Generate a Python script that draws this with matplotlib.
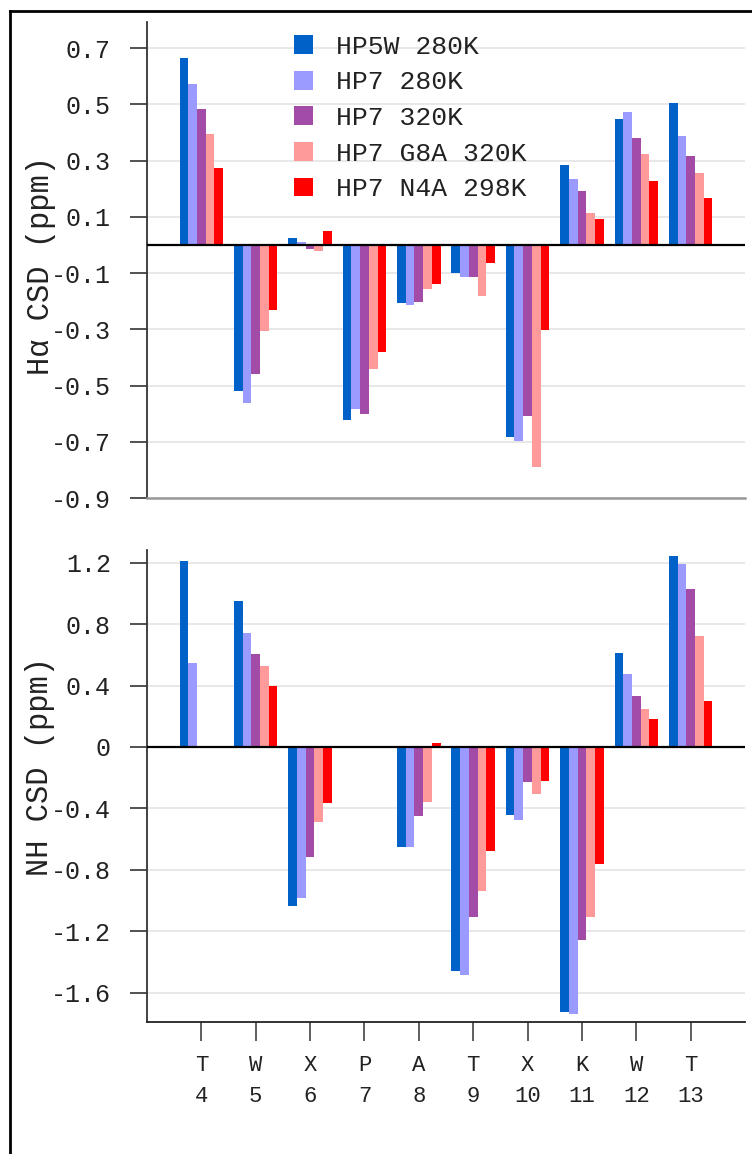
import numpy as np
import matplotlib
matplotlib.use("Agg")
import matplotlib.pyplot as plt
from matplotlib.lines import Line2D

plt.rcParams['font.family'] = ['Liberation Mono', 'DejaVu Sans Mono']
plt.rcParams['axes.unicode_minus'] = False

residues = ["T", "W", "X", "P", "A", "T", "X", "K", "W", "T"]
numbers = [4, 5, 6, 7, 8, 9, 10, 11, 12, 13]
series = ["HP5W 280K", "HP7 280K", "HP7 320K", "HP7 G8A 320K", "HP7 N4A 298K"]
colors = ["#0062C8", "#9A9AFF", "#A24CA8", "#FF9A9A", "#FF0000"]

nan = np.nan
ha_hp5w_280 = [0.665, -0.520, 0.024, -0.622, -0.205, -0.099, -0.683, 0.284, 0.448, 0.505]
ha_hp7_280 = [0.573, -0.563, 0.010, -0.583, -0.215, -0.114, -0.697, 0.234, 0.472, 0.387]
ha_hp7_320 = [0.484, -0.460, -0.014, -0.600, -0.203, -0.114, -0.609, 0.192, 0.379, 0.316]
ha_g8a_320 = [0.396, -0.306, -0.020, -0.442, -0.158, -0.180, -0.789, 0.112, 0.322, 0.257]
ha_n4a_298 = [0.275, -0.230, 0.048, -0.382, -0.138, -0.065, -0.301, 0.094, 0.228, 0.166]

nh_hp5w_280 = [1.212, 0.952, -1.032, nan, -0.653, -1.455, -0.442, -1.722, 0.610, 1.245]
nh_hp7_280 = [0.545, 0.740, -0.980, nan, -0.653, -1.483, -0.475, -1.737, 0.473, 1.191]
nh_hp7_320 = [nan, 0.605, -0.714, nan, -0.449, -1.104, -0.226, -1.256, 0.332, 1.026]
nh_g8a_320 = [nan, 0.529, -0.486, nan, -0.358, -0.935, -0.308, -1.108, 0.247, 0.722]
nh_n4a_298 = [nan, 0.397, -0.367, nan, 0.024, -0.677, -0.219, -0.761, 0.180, 0.299]

ha_ticks = [0.7, 0.5, 0.3, 0.1, -0.1, -0.3, -0.5, -0.7, -0.9]
ha_ticklabels = ["0.7", "0.5", "0.3", "0.1", "-0.1", "-0.3", "-0.5", "-0.7", "-0.9"]
nh_ticks = [1.2, 0.8, 0.4, 0, -0.4, -0.8, -1.2, -1.6]
nh_ticklabels = ["1.2", "0.8", "0.4", "0", "-0.4", "-0.8", "-1.2", "-1.6"]

W, H = 752, 1154
fig = plt.figure(figsize=(W / 100, H / 100), dpi=100)

def fx(px):
    return px / W

def fy(py):
    return 1 - py / H

ax_l, ax_r = 147, 745
ax1 = fig.add_axes([fx(ax_l), fy(498), fx(ax_r - ax_l), (498 - 22) / H])
ax2 = fig.add_axes([fx(ax_l), fy(1022), fx(ax_r - ax_l), (1022 - 550) / H])

x = np.array(numbers, dtype=float)
bw = 0.16
offsets = [-2, -1, 0, 1, 2]

ha_data = [ha_hp5w_280, ha_hp7_280, ha_hp7_320, ha_g8a_320, ha_n4a_298]
nh_data = [nh_hp5w_280, nh_hp7_280, nh_hp7_320, nh_g8a_320, nh_n4a_298]

for ax, data in ((ax1, ha_data), (ax2, nh_data)):
    for k, (vals, c, lab) in enumerate(zip(data, colors, series)):
        ax.bar(x + offsets[k] * bw, vals, width=bw, color=c, label=lab,
               edgecolor='none', zorder=3)
    ax.set_xlim(3, 14)
    ax.axhline(0, color='black', lw=1.6, zorder=4)
    ax.grid(axis='y', color='#e6e6e6', lw=1.3, zorder=0)
    ax.set_axisbelow(True)
    for s in ('top', 'right'):
        ax.spines[s].set_visible(False)
    ax.spines['left'].set_color('#333333')
    ax.spines['left'].set_linewidth(1.3)
    ax.tick_params(axis='y', direction='out', length=12, width=1.2,
                   color='#333333', pad=14, labelsize=18, labelcolor='#222222')

ax1.set_ylim(-0.9, 0.793)
ax1.set_yticks(ha_ticks)
ax1.set_yticklabels(ha_ticklabels)
ax1.set_xticks([])
ax1.spines['bottom'].set_color('#999999')
ax1.spines['bottom'].set_linewidth(1.8)

ax2.set_ylim(-1.79, 1.282)
ax2.set_yticks(nh_ticks)
ax2.set_yticklabels(nh_ticklabels)
ax2.spines['bottom'].set_color('#222222')
ax2.spines['bottom'].set_linewidth(1.3)
ax2.set_xticks(x)
ax2.set_xticklabels([f"{r}\n{n}" for r, n in zip(residues, numbers)],
                    linespacing=1.6)
ax2.tick_params(axis='x', direction='out', length=14, width=1.1,
                color='#333333', pad=10, labelsize=16, labelcolor='#222222')

leg = ax1.legend(loc='upper left', bbox_to_anchor=(0.245, 0.973),
                 frameon=False, fontsize=19, handlelength=0.72,
                 handleheight=0.72, handletextpad=0.9, labelspacing=0.44,
                 borderpad=0, borderaxespad=0)
for t in leg.get_texts():
    t.set_color('#222222')

fig.text(fx(41), fy(265), "H\u03b1 CSD (ppm)", rotation=90, ha='center',
         va='center', fontsize=22, color='#222222')
fig.text(fx(40), fy(766), "NH CSD (ppm)", rotation=90, ha='center',
         va='center', fontsize=22, color='#222222')

# outer frame (top and left edges visible)
fig.add_artist(Line2D([fx(10), fx(10)], [0, fy(11)], color='black', lw=2,
                      transform=fig.transFigure))
fig.add_artist(Line2D([fx(10), 1], [fy(11), fy(11)], color='black', lw=2,
                      transform=fig.transFigure))

fig.savefig("out.png", dpi=100, facecolor='white')
